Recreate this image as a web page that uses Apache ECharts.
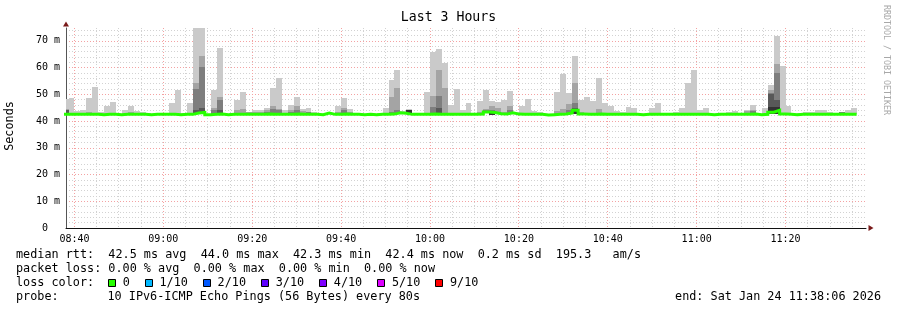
<!DOCTYPE html>
<html><head><meta charset="utf-8"><title>Last 3 Hours</title>
<script src="https://cdn.jsdelivr.net/npm/echarts@6/dist/echarts.min.js"></script>
<style>html,body{margin:0;padding:0;background:#fff;}#chart{width:897px;height:310px;}</style>
</head><body><div id="chart"></div>
<script>
// ---------------- data ----------------
const chartTitle = 'Last 3 Hours';
const yAxisName = 'Seconds';
const sideNote = 'RRDTOOL / TOBI OETIKER';
const timeStart = 31086;      // 08:38:06 (seconds of day)
const timeEnd = 41886;        // 11:38:06
const stepSeconds = 80;
const firstStepStart = 31040; // 08:37:20, first 80 s step
const xTickTimes = [31200, 32400, 33600, 34800, 36000, 37200, 38400, 39600, 40800];
const xTickLabels = ['08:40', '09:00', '09:20', '09:40', '10:00', '10:20', '10:40', '11:00', '11:20'];
const yMax = 74.8;
const yTickValues = [0, 10, 20, 30, 40, 50, 60, 70];
const yTickLabels = ['0  ', '10 m', '20 m', '30 m', '40 m', '50 m', '60 m', '70 m'];

// median rtt per 80 s step (ms)
const medianMs = [
  42.5,42.5,42.5,42.5,42.5,42.5,42.4,42.5,42.5,42.4,
  42.5,42.5,42.5,42.5,42.4,42.5,42.5,42.5,42.5,42.4,
  42.5,42.5,43.0,43.2,42.4,42.5,42.6,42.4,42.5,42.5,
  42.5,42.5,42.5,42.5,42.6,42.5,42.5,42.5,42.5,42.6,
  42.5,42.5,42.5,42.4,43.0,42.5,42.5,42.6,42.5,42.5,
  42.4,42.5,42.4,42.5,42.5,42.6,43.1,42.9,42.5,42.5,
  42.5,42.5,42.6,42.5,42.5,42.5,42.5,42.5,42.5,42.5,
  42.6,43.4,43.2,42.7,42.6,43.1,42.6,42.5,42.5,42.5,
  42.5,42.3,42.4,42.5,42.6,43.0,44.0,42.6,42.5,42.5,
  42.6,42.5,42.5,42.5,42.5,42.5,42.5,42.4,42.5,42.5,
  42.5,42.5,42.5,42.5,42.5,42.5,42.5,42.5,42.5,42.4,
  42.5,42.5,42.5,42.5,42.5,42.5,42.6,42.4,42.5,43.3,
  44.0,42.6,42.5,42.4,42.5,42.5,42.5,42.5,42.5,42.5,
  42.5,42.5,42.5,42.5
];
// sorted pings: highest (ping10) ... (ping5), ms, null = no smoke
const ping10 = [
  48.3,48.8,43.6,44.0,48.8,52.9,43.2,45.5,47.0,null,
  44.2,45.8,43.9,43.5,43.0,null,null,null,46.8,51.5,
  43.0,46.8,75.5,75.5,null,51.5,67.4,null,43.0,48.0,
  50.9,43.2,44.2,44.0,44.8,52.4,56.2,44.2,46.1,49.1,
  44.6,45.0,43.2,null,null,null,45.5,48.7,44.6,null,
  null,null,null,43.0,45.0,55.4,59.2,43.9,44.5,null,
  null,50.9,65.7,67.0,61.7,46.1,52.1,44.2,46.8,43.0,
  47.6,51.7,47.6,47.2,48.0,51.3,43.5,45.5,48.3,43.9,
  43.2,null,null,50.9,57.7,50.5,64.4,48.0,48.9,47.6,
  56.2,46.7,45.7,43.9,43.5,45.2,44.7,null,null,44.7,
  46.7,null,null,43.2,44.7,54.2,59.2,44.2,44.7,null,
  null,null,43.3,43.8,43.0,44.2,46.1,null,44.7,53.6,
  71.7,60.7,45.7,null,43.0,43.3,43.3,44.2,44.2,43.2,
  43.0,43.5,44.2,45.0
];
const ping9 = [
  44.5,null,null,null,43.2,43.0,null,null,null,null,
  null,43.5,null,null,null,null,null,null,null,null,
  null,null,54.2,64.4,null,44.8,49.1,null,null,44.2,
  44.6,43.2,43.5,43.3,44.0,45.7,44.5,null,44.2,45.7,
  43.9,43.5,null,null,null,null,43.3,44.8,43.5,null,
  null,null,null,null,null,48.9,52.2,null,null,null,
  null,null,49.2,59.2,52.2,null,null,null,null,null,
  43.5,44.5,45.5,45.0,43.5,45.7,null,null,null,null,
  null,null,null,43.9,44.4,46.4,54.2,43.5,null,null,
  44.5,null,null,null,null,null,null,null,null,null,
  null,null,null,null,null,null,null,null,null,null,
  null,null,null,null,null,43.8,44.0,null,null,51.7,
  61.4,null,null,null,null,null,null,null,null,null,
  null,43.5,null,null
];
const ping8 = [
  44.0,null,null,null,null,null,null,null,null,null,
  null,null,null,null,null,null,null,null,null,null,
  null,null,52.1,60.4,null,44.0,48.0,null,null,null,
  null,43.0,null,null,43.5,44.5,44.0,null,43.5,44.2,
  null,43.3,null,null,null,null,null,44.3,null,null,
  null,null,null,null,null,43.5,44.2,null,null,null,
  null,null,45.2,49.2,null,null,null,null,null,null,
  null,44.0,44.0,null,null,44.0,null,null,null,null,
  null,null,null,null,null,44.0,46.7,null,null,null,
  null,null,null,null,null,null,null,null,null,null,
  null,null,null,null,null,null,null,null,null,null,
  null,null,null,null,null,null,43.6,null,null,50.6,
  57.9,null,null,null,null,null,null,null,null,null,
  null,43.4,null,null
];
const ping7 = [
  44.0,null,null,null,null,null,null,null,null,null,
  null,null,null,null,null,null,null,null,null,null,
  null,null,44.0,45.0,null,null,44.0,null,null,null,
  null,null,null,null,null,null,null,null,null,null,
  null,null,null,null,null,null,null,null,null,null,
  null,null,null,null,null,null,null,null,null,null,
  null,null,null,45.0,null,null,null,null,null,null,
  null,null,null,null,null,null,null,null,null,null,
  null,null,null,null,null,null,45.0,null,null,null,
  null,null,null,null,null,null,null,null,null,null,
  null,null,null,null,null,null,null,null,null,null,
  null,null,null,null,null,null,null,null,null,50.2,
  48.0,null,null,null,null,null,null,null,null,null,
  null,null,null,null
];
const ping6 = [
  null,null,null,null,null,null,null,null,null,null,
  null,null,null,null,null,null,null,null,null,null,
  null,null,null,null,null,null,null,null,null,null,
  null,null,null,null,null,null,null,null,null,null,
  null,null,null,null,null,null,null,null,null,null,
  null,null,null,null,null,null,null,null,44.3,null,
  null,null,null,null,null,null,null,null,null,null,
  null,null,43.3,null,null,null,null,null,null,null,
  null,null,null,null,null,null,44.0,null,null,null,
  null,null,null,null,null,null,null,null,null,null,
  null,null,null,null,null,null,null,null,null,null,
  null,null,null,null,null,null,null,null,null,45.2,
  45.2,null,null,null,null,null,null,null,null,null,
  null,null,null,null
];
const ping5 = [
  null,null,null,null,null,null,null,null,null,null,
  null,null,null,null,null,null,null,null,null,null,
  null,null,null,null,null,null,null,null,null,null,
  null,null,null,null,null,null,null,null,null,null,
  null,null,null,null,null,null,null,null,null,null,
  null,null,null,null,null,null,null,null,42.5,null,
  null,null,null,null,null,null,null,null,null,null,
  null,null,42.2,null,null,null,null,null,null,null,
  null,null,null,null,null,null,42.5,null,null,null,
  null,null,null,null,null,null,null,null,null,null,
  null,null,null,null,null,null,null,null,null,null,
  null,null,null,null,null,null,null,null,null,42.8,
  42.8,null,null,null,null,null,null,null,null,null,
  null,null,null,null
];

const lossLabels = ['0', '1/10', '2/10', '3/10', '4/10', '5/10', '9/10'];
const lossColors = ['#26ff00', '#00b8ff', '#0059ff', '#5e00ff', '#7e00ff', '#dd00ff', '#ff0000'];
const smokeColors = ['#cacaca', '#a4a4a4', '#7e7e7e', '#585858', '#323232'];
const rttText = 'median rtt:  42.5 ms avg  44.0 ms max  42.3 ms min  42.4 ms now  0.2 ms sd  195.3   am/s';
const lossText = 'packet loss: 0.00 % avg  0.00 % max  0.00 % min  0.00 % now';
const lossColorText = 'loss color:';
const probeLabel = 'probe:';
const probeText = '10 IPv6-ICMP Echo Pings (56 Bytes) every 80s';
const endText = 'end: Sat Jan 24 11:38:06 2026';

// ---------------- chart ----------------
const MONO = '"DejaVu Sans Mono", monospace';
const minorGrid = '#d2d2d2';
const majorGrid = '#f4a2a2';
const arrowColor = '#7a1a1a';

function stepStart(j) { return firstStepStart + j * stepSeconds; }
function hhmm(sec) {
  const h = Math.floor(sec / 3600), m = Math.floor((sec % 3600) / 60);
  return String(h).padStart(2, '0') + ':' + String(m).padStart(2, '0');
}

function bandSeries(tops, bottoms, color, z) {
  const data = [];
  tops.forEach(function (top, j) {
    const bot = bottoms[j];
    if (top == null || bot == null || top <= bot) return;
    data.push([stepStart(j), stepStart(j) + stepSeconds, bot, top]);
  });
  return {
    type: 'custom', coordinateSystem: 'cartesian2d', z: z, silent: true, data: data,
    encode: { x: [0, 1], y: [2, 3] },
    renderItem: function (params, api) {
      const a = api.coord([api.value(0), api.value(3)]);
      const b = api.coord([api.value(1), api.value(2)]);
      const x0 = Math.round(a[0]), x1 = Math.round(b[0]);
      const y0 = Math.round(a[1]), y1 = Math.round(b[1]);
      const cs = params.coordSys;
      const r = echarts.graphic.clipRectByRect(
        { x: x0, y: y0, width: x1 - x0, height: y1 - y0 },
        { x: cs.x, y: cs.y, width: cs.width, height: cs.height });
      if (!r) return;
      return { type: 'rect', shape: r, style: { fill: color } };
    }
  };
}

// vertical grid: every 5 minutes, major every 20 minutes
const vGrid = [];
for (let t = xTickTimes[0]; t < timeEnd; t += 300) {
  vGrid.push([t, (t - xTickTimes[0]) % 1200 === 0 ? 1 : 0]);
}

const medianData = medianMs.map(function (m, j) { return [stepStart(j), m]; });
medianData.push([stepStart(medianMs.length), medianMs[medianMs.length - 1]]);

const yLineColors = [majorGrid, minorGrid, minorGrid, minorGrid, minorGrid];

// legend graphics
const graphics = [];
function txt(x, y, s, size, opts) {
  opts = opts || {};
  graphics.push({
    type: 'text', x: x, y: y, rotation: opts.rotation || 0, silent: true, z: 100,
    style: { text: s, font: size + 'px ' + MONO, fill: opts.fill || '#000',
      align: opts.align || 'left', verticalAlign: 'middle' }
  });
}
txt(448.5, 18, chartTitle, 13.2, { align: 'center' });
txt(10, 126, yAxisName, 11.8, { align: 'center', rotation: Math.PI / 2 });
txt(886, 60, sideNote, 8.3, { align: 'center', rotation: -Math.PI / 2, fill: '#a8a8a8' });
txt(16, 254.5, rttText, 11.8);
txt(16, 268.5, lossText, 11.8);
txt(16, 282.5, lossColorText, 11.8);
txt(16, 296.5, probeLabel, 11.8);
txt(107.5, 296.5, probeText, 11.8);
txt(881, 296.5, endText, 11.8, { align: 'right' });
let lx = 108;
lossLabels.forEach(function (lab, i) {
  graphics.push({ type: 'rect', silent: true, z: 100,
    shape: { x: Math.round(lx) + 0.5, y: 279.5, width: 7, height: 7 },
    style: { fill: lossColors[i], stroke: '#000', lineWidth: 1 } });
  const tx = lx + 14.7;
  txt(tx, 282.5, lab, 11.8);
  lx = tx + lab.length * 7.1 + 15;
});

const option = {
  animation: false,
  backgroundColor: '#fff',
  grid: { left: 66, right: 31, top: 28, bottom: 82 },
  xAxis: [{
    type: 'value', min: timeStart, max: timeEnd, position: 'bottom',
    axisLine: { show: true, lineStyle: { color: '#111', width: 1 } },
    axisTick: { show: false },
    splitLine: { show: false },
    axisLabel: {
      customValues: xTickTimes, margin: 6, color: '#000', fontFamily: MONO, fontSize: 10,
      formatter: function (v) { const i = xTickTimes.indexOf(v); return i >= 0 ? xTickLabels[i] : hhmm(v); }
    }
  }, {
    type: 'value', min: timeStart, max: timeEnd, position: 'bottom',
    axisLine: { show: true, symbol: ['none', 'triangle'], symbolSize: [6, 5], symbolOffset: [0, 5],
      lineStyle: { color: arrowColor, width: 0 } },
    axisTick: { show: false }, axisLabel: { show: false }, splitLine: { show: false }
  }],
  yAxis: [{
    type: 'value', min: 0, max: yMax, interval: 2,
    axisLine: { show: true, lineStyle: { color: '#555', width: 1 } },
    axisTick: { show: false },
    axisLabel: {
      margin: 6, color: '#000', fontFamily: MONO, fontSize: 10, showMaxLabel: false,
      formatter: function (v) { const i = yTickValues.indexOf(v); return i >= 0 ? yTickLabels[i] : ''; }
    },
    splitLine: { show: true, showMaxLine: false, lineStyle: { color: yLineColors, width: 1, type: [1, 2] } }
  }, {
    type: 'value', min: 0, max: yMax, position: 'left',
    axisLine: { show: true, symbol: ['none', 'triangle'], symbolSize: [6, 5], symbolOffset: [0, 4],
      lineStyle: { color: arrowColor, width: 0 } },
    axisTick: { show: false }, axisLabel: { show: false }, splitLine: { show: false }
  }],
  graphic: graphics,
  series: [
    {
      type: 'custom', coordinateSystem: 'cartesian2d', z: 1, silent: true, data: vGrid,
      encode: { x: 0 },
      renderItem: function (params, api) {
        const t = api.value(0);
        const top = api.coord([t, yMax]);
        const bot = api.coord([t, 0]);
        const x = Math.floor(top[0]) + 0.5;
        return { type: 'line', shape: { x1: x, y1: top[1], x2: x, y2: bot[1] },
          style: { stroke: api.value(1) ? majorGrid : minorGrid, lineWidth: 1, lineDash: [1, 2] } };
      }
    },
    bandSeries(ping10, medianMs, smokeColors[0], 2),
    bandSeries(ping9, medianMs, smokeColors[1], 2),
    bandSeries(ping8, medianMs, smokeColors[2], 2),
    bandSeries(ping7, medianMs, smokeColors[3], 2),
    bandSeries(ping6, ping5, smokeColors[4], 2),
    {
      type: 'line', step: 'end', data: medianData, symbol: 'none', silent: true, z: 5, clip: true,
      lineStyle: { color: lossColors[0], width: 3, join: 'miter', cap: 'butt' }
    }
  ]
};

const chart = echarts.init(document.getElementById('chart'), null, { renderer: 'canvas' });
chart.setOption(option);
</script>
</body></html>
